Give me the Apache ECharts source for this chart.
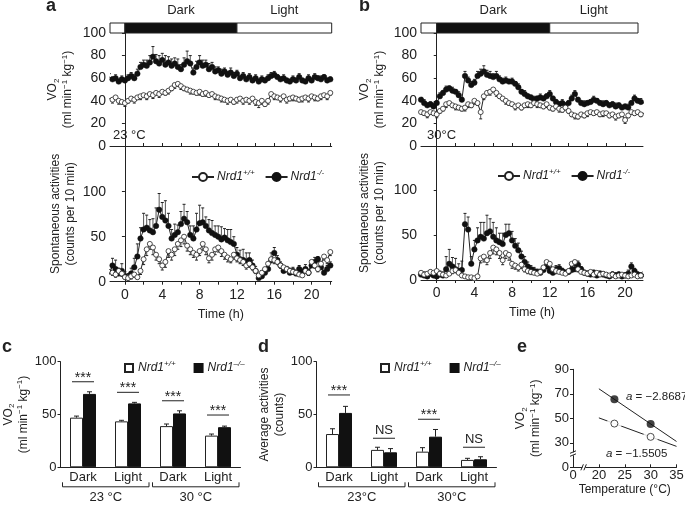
<!DOCTYPE html>
<html><head><meta charset="utf-8">
<script src="https://cdn.jsdelivr.net/npm/echarts@6/dist/echarts.min.js"></script>
<style>html,body{margin:0;padding:0;background:#fff}#c{width:685px;height:506px}</style>
</head><body><div id="c"></div><script>
const FONT = '"Liberation Sans", Arial, Helvetica, sans-serif';
const INK = '#222';
// sampling grid of the time courses: every 20 min, first sample at -1 h 40 min
const t0 = -5/3, dt = 1/3;

// ---- panel a (23 °C) ----
const a_vo2_ko = [61,59,60,57,59, 58,60,62, 60,64,70, 72,71,74, 79,75,73, 76,72,74, 71,73,70, 68,72,75, 73,65,70, 74,71,72, 68,70,66, 67,64,66, 63,65,62, 64,60,62, 59,61,58, 60,57,59, 58,60,62, 63,61,59, 60,58,57, 59,58,61, 58,57,60, 58,61,60, 59,61,58, 59];
const a_vo2_ko_err = [3,2,3,2,3, 2,3,3, 3,4,4, 4,5,6, 9,6,7, 6,8,5, 6,5,7, 4,6,9, 7,4,5, 6,5,4, 5,4,4, 3,4,3, 3,4,3, 3,2,3, 2,3,2, 3,2,3, 2,3,3, 3,2,2, 3,2,2, 3,2,3, 2,2,3, 2,3,2, 3,2,2, 2];
const a_vo2_wt = [42,41,43,40,39, 38,40,42, 41,43,44, 45,44,46, 45,47,46, 48,47,49, 51,54,55, 53,51,50, 49,48,47, 48,46,47, 45,46,44, 43,42,41, 40,41,39, 41,42,40, 41,40,42, 39,38,40, 37,40,46, 44,43,42, 44,41,42, 43,42,41, 42,43,42, 44,43,42, 44,45,44, 47];
const a_vo2_wt_err = [2,3,2,3,2, 3,2,2, 3,2,3, 2,3,2, 3,2,3, 2,2,3, 2,3,2, 3,2,2, 3,2,2, 3,2,3, 2,2,3, 2,3,2, 3,2,2, 3,2,3, 2,3,2, 3,4,3, 2,3,2, 3,2,3, 2,3,2, 3,2,2, 3,2,3, 2,3,2, 3,2,3, 2];
const a_act_ko = [8,18,14,9,12, 6,5,9, 16,28,48, 58,60,57, 55,62,80, 72,68,62, 48,52,55, 64,70,66, 52,48,58, 65,66,62, 57,54,52, 50,47,49, 46,44,42, 30,25,24, 22,24,18, 12,4,6, 10,14,24, 32,24,18, 12,14,10, 12,9,14, 11,14,10, 18,22,25, 16,10,14, 18];
const a_act_ko_err = [6,8,10,6,8, 5,4,6, 10,14,12, 18,14,12, 15,20,18, 16,22,14, 10,12,8, 14,16,12, 10,14,18, 20,16,10, 12,14,10, 12,14,10, 12,14,8, 8,10,12, 10,8,6, 5,4,6, 5,6,8, 6,5,4, 4,3,5, 4,3,4, 3,5,4, 4,5,3, 4,3,4, 4];
const a_act_wt = [14,10,8,12,9, 5,4,6, 8,5,12, 25,36,42, 38,30,25, 18,22,34, 30,36,42, 46,50,40, 36,32,30, 34,42,36, 26,30,36, 38,34,30, 27,25,30, 26,24,22, 18,20,16, 12,7,10, 14,20,25, 24,22,18, 16,14,12, 11,10,8, 7,12,10, 22,18,14, 20,28,24, 33];
const a_act_wt_err = [4,3,3,4,3, 2,2,3, 3,2,4, 6,7,6, 8,6,5, 5,6,7, 6,7,6, 7,8,6, 6,5,6, 5,7,6, 5,6,6, 5,6,5, 5,4,5, 4,4,4, 4,4,3, 3,2,3, 3,4,4, 4,3,3, 3,3,3, 3,3,2, 2,3,3, 4,3,3, 3,4,4, 4];

// ---- panel b (30 °C) ----
const b_vo2_ko = [41,38,36,37,35, 38,44,47, 50,51,49, 48,45,41, 62,58,54, 56,62,64, 66,63,62, 61,62,59, 57,58,57, 57,55,52, 48,46,44, 43,41,42, 43,42,44, 46,42,39, 37,38,36, 38,42,46, 41,38,37, 38,39,41, 40,38,37, 38,36,37, 35,36,34, 35,34,38, 42,40,39, 38];
const b_vo2_ko_err = [2,3,2,2,3, 2,3,2, 3,2,3, 2,3,2, 4,3,3, 3,4,4, 5,4,4, 3,4,3, 3,3,2, 3,2,3, 2,3,2, 2,3,2, 3,2,2, 3,2,2, 2,3,2, 2,3,3, 2,2,3, 2,2,3, 2,2,3, 2,2,2, 3,2,2, 2,3,2, 3,2,3, 2];
const b_vo2_wt = [30,29,28,30,29, 28,31,33, 37,38,36, 35,34,33, 34,37,36, 40,38,30, 44,47,48, 50,47,44, 42,40,38, 37,35,36, 34,36,37, 36,38,37, 36,35,37, 34,33,35, 33,32,34, 31,28,27, 26,28,27, 29,30,29, 30,28,29, 29,27,28, 26,27,28, 23,27,30, 29,30,28, 29];
const b_vo2_wt_err = [2,2,3,2,2, 3,2,2, 3,2,2, 3,2,2, 3,3,2, 3,2,6, 3,2,3, 2,3,2, 2,3,2, 2,3,2, 2,2,3, 2,2,3, 2,2,3, 2,2,2, 3,2,2, 2,2,3, 2,2,2, 3,2,2, 2,2,3, 2,2,2, 3,2,2, 3,2,2, 2,2,2, 2];
const b_act_ko = [6,5,4,7,5, 4,6,5, 12,18,15, 12,10,11, 62,56,18, 34,44,48, 46,52,54, 48,44,42, 40,50,52, 44,38,33, 26,20,15, 12,10,9, 8,11,15, 10,8,12, 13,10,8, 9,11,12, 17,12,8, 7,6,8, 5,7,6, 5,4,6, 5,6,4, 5,7,15, 10,6,5, 6];
const b_act_ko_err = [3,4,3,4,3, 3,4,4, 14,16,10, 12,8,10, 12,14,8, 10,14,16, 18,20,14, 16,14,10, 12,12,10, 10,8,8, 6,6,5, 4,4,3, 4,4,4, 3,4,4, 4,3,3, 3,4,4, 4,3,3, 3,3,3, 3,3,3, 3,3,3, 3,3,3, 3,4,4, 3,3,3, 3];
const b_act_wt = [8,6,7,9,8, 10,7,6, 5,7,10, 11,8,5, 4,3,3, 2,4,24, 26,22,30, 36,34,30, 22,30,28, 18,16,14, 17,12,10, 9,8,7, 9,14,20, 18,12,10, 9,8,7, 10,18,20, 12,9,8, 7,9,6, 8,6,7, 6,5,6, 4,5,6, 5,4,5, 6,4,5, 4];
const b_act_wt_err = [2,2,2,3,2, 3,2,2, 2,2,3, 3,2,2, 2,1,1, 1,2,5, 6,5,6, 7,6,6, 5,6,6, 5,4,4, 4,3,3, 3,2,2, 3,3,4, 4,3,3, 2,2,2, 3,4,4, 3,2,2, 2,2,2, 2,2,2, 2,2,2, 2,2,2, 2,2,2, 2,2,2, 2];

// light/dark cycle and time axis ticks
const darkPhase = [0, 12];
const phaseLabels = ['', 'Dark', 'Light'];
const hourLabels = [0, 4, 8, 12, 16, 20];
const hourTicks = [0, 2, 4, 6, 8, 10, 12, 14, 16, 18, 20, 22];
const vo2Ticks = [0, 20, 40, 60, 80, 100];
const actTicks = [0, 50, 100];
const barTicks = [0, 50, 100];

// ---- panel c: VO2 means ----
const barCats = ['Dark', 'Light', 'Dark', 'Light'];
const c_groups = ['23 °C', '30 °C'];
const c_wt = [47, 43.5, 39, 30];
const c_wt_err = [1.5, 1, 2, 1.5];
const c_ko = [69.5, 60.5, 51, 38];
const c_ko_err = [2, 1, 2.5, 1];
const c_sig = ['***', '***', '***', '***'];
const c_sigLevel = [81, 71, 63, 49.5];

// ---- panel d: average activities ----
const d_groups = ['23°C', '30°C'];
const d_wt = [31.5, 16.5, 14.8, 7];
const d_wt_err = [5, 2.5, 3.8, 1.5];
const d_ko = [51.5, 14.2, 29, 7.6];
const d_ko_err = [6.2, 3.5, 6.8, 2.4];
const d_sig = ['***', 'NS', '***', 'NS'];
const d_sigLevel = [68.5, 27.5, 45.5, 19];

// ---- panel e: VO2 vs temperature ----
const e_temp = [23, 30];
const e_wt = [45.7, 34.85];
const e_ko = [65.5, 45.4];
const e_slope_wt = -1.5505;
const e_slope_ko = -2.8687;
const e_fitRange = [20, 35];
const e_xTicks = [15, 20, 25, 30, 35];
const e_yTicks = [10, 30, 50, 70, 90];

// ---------------------------------------------------------------
const aRange = [-1.6, 22.15], bRange = [-1.67, 21.9], bBarRange = [-1.67, 21.37];
const ts = v => v.map((y, i) => [t0 + i * dt, y]);
const inRange = (arr, r) => arr.filter(v => v >= r[0] && v <= r[1]);

const nameRich = {
  n: {fontSize: 12, fontFamily: FONT, color: INK, lineHeight: 15},
  sup: {fontSize: 8, fontFamily: FONT, color: INK, lineHeight: 9, verticalAlign: 'top'},
  sub: {fontSize: 8, fontFamily: FONT, color: INK, lineHeight: 9, verticalAlign: 'bottom'}
};
const VO2_NAME = '{n|VO}{sub|2}\n{n|(ml min}{sup|−1}{n| kg}{sup|−1}{n|)}';

function valueY(gridIndex, min, max, ticks, name, nameGap, fmt, fs) {
  return {
    type: 'value', gridIndex, min, max,
    axisLine: {show: true, lineStyle: {color: INK, width: 1}},
    axisTick: {show: true, length: 3, customValues: ticks, lineStyle: {color: INK}},
    axisLabel: {customValues: ticks, fontSize: fs || 13, color: INK, fontFamily: FONT, margin: 4, formatter: fmt},
    splitLine: {show: false},
    name, nameLocation: 'middle', nameGap, nameRotate: 90,
    nameTextStyle: {rich: nameRich, fontSize: 12, fontFamily: FONT, color: INK, lineHeight: 15}
  };
}
function timeX(gridIndex, range, bottom) {
  return {
    type: 'value', gridIndex, min: range[0], max: range[1],
    axisLine: {show: true, onZero: false, lineStyle: {color: INK, width: 1}},
    axisTick: {show: true, inside: !bottom, length: 3, customValues: inRange(hourTicks, range), lineStyle: {color: INK}},
    axisLabel: {show: bottom, customValues: hourLabels, fontSize: 14, color: INK, fontFamily: FONT, margin: 6},
    splitLine: {show: false},
    name: bottom ? 'Time (h)' : '', nameLocation: 'middle', nameGap: 26,
    nameTextStyle: {fontSize: 12.5, fontFamily: FONT, color: INK}
  };
}
function catX(gridIndex) {
  return {
    type: 'category', gridIndex, data: barCats,
    axisLine: {show: true, lineStyle: {color: INK, width: 1}},
    axisTick: {show: false},
    axisLabel: {fontSize: 13, color: INK, fontFamily: FONT, margin: 4}
  };
}
function hiddenAxis(gridIndex, range) {
  return {type: 'value', gridIndex, min: range[0], max: range[1], show: false};
}

function phaseSeries(ai, range) {
  const data = [[range[0], darkPhase[0]], [darkPhase[0], darkPhase[1]], [darkPhase[1], range[1]]];
  return {
    type: 'custom', xAxisIndex: ai, yAxisIndex: ai, data, encode: {x: [0, 1]}, silent: true,
    renderItem(params, api) {
      const i = params.dataIndex;
      const p0 = api.coord([api.value(0), 1]), p1 = api.coord([api.value(1), 0]);
      return {type: 'group', children: [
        {type: 'rect', shape: {x: p0[0], y: p0[1], width: p1[0] - p0[0], height: p1[1] - p0[1]},
         style: {fill: i === 1 ? '#111' : '#fff', stroke: INK, lineWidth: 1}},
        {type: 'text', x: (p0[0] + p1[0]) / 2, y: p0[1] - 13,
         style: {text: phaseLabels[i], fill: INK, font: '13px ' + FONT, align: 'center', verticalAlign: 'middle'}}
      ]};
    }
  };
}
function errSeries(ai, vals, errs, dir, color) {
  return {
    type: 'custom', xAxisIndex: ai, yAxisIndex: ai, clip: true, silent: true, z: 2,
    data: vals.map((v, i) => [t0 + i * dt, v, v + dir * errs[i]]),
    encode: {x: 0, y: [1, 2]},
    renderItem(params, api) {
      const x = api.value(0);
      const p0 = api.coord([x, api.value(1)]), p1 = api.coord([x, api.value(2)]);
      return {type: 'group', children: [
        {type: 'line', shape: {x1: p0[0], y1: p0[1], x2: p1[0], y2: p1[1]}, style: {stroke: color, lineWidth: 1}},
        {type: 'line', shape: {x1: p1[0] - 1.5, y1: p1[1], x2: p1[0] + 1.5, y2: p1[1]}, style: {stroke: INK, lineWidth: 1}}
      ]};
    }
  };
}
function lineSeries(name, ai, vals, wt) {
  return {
    type: 'line', name, xAxisIndex: ai, yAxisIndex: ai, data: ts(vals), clip: true, silent: true, z: 3,
    symbol: 'circle', symbolSize: wt ? 5 : 5.5, showAllSymbol: true, animation: false,
    lineStyle: {color: INK, width: 1},
    itemStyle: wt ? {color: '#fff', borderColor: INK, borderWidth: 0.8} : {color: '#111', borderColor: '#111', borderWidth: 0.5},
    emphasis: {disabled: true}
  };
}
function panelTime(ai, ko, koErr, wt, wtErr) {
  return [
    errSeries(ai, ko, koErr, 1, '#555'),
    lineSeries('KO', ai, ko, false),
    errSeries(ai, wt, wtErr, -1, '#555'),
    lineSeries('WT', ai, wt, true)
  ];
}
function barSeries(name, ai, vals, wt) {
  return {
    type: 'bar', name, xAxisIndex: ai, yAxisIndex: ai, data: vals, barWidth: 13, barGap: '0%', silent: true,
    itemStyle: wt ? {color: '#fff', borderColor: INK, borderWidth: 1} : {color: '#111', borderColor: '#111', borderWidth: 1}
  };
}
function barErr(ai, vals, errs, off) {
  return {
    type: 'custom', xAxisIndex: ai, yAxisIndex: ai, silent: true, z: 3,
    data: vals.map((v, i) => [i, v, v + errs[i]]), encode: {x: 0, y: [1, 2]},
    renderItem(params, api) {
      const i = api.value(0);
      const p0 = api.coord([i, api.value(1)]), p1 = api.coord([i, api.value(2)]);
      const x = p0[0] + off;
      return {type: 'group', children: [
        {type: 'line', shape: {x1: x, y1: p0[1], x2: x, y2: p1[1]}, style: {stroke: INK, lineWidth: 1}},
        {type: 'line', shape: {x1: x - 2.5, y1: p1[1], x2: x + 2.5, y2: p1[1]}, style: {stroke: INK, lineWidth: 1}}
      ]};
    }
  };
}
function sigSeries(ai, levels, labels) {
  return {
    type: 'custom', xAxisIndex: ai, yAxisIndex: ai, silent: true, clip: false, z: 4,
    data: levels.map((v, i) => [i, v]), encode: {x: 0, y: 1},
    renderItem(params, api) {
      const i = params.dataIndex;
      const p = api.coord([api.value(0), api.value(1)]);
      const lab = labels[i];
      const stars = lab === '***';
      return {type: 'group', children: [
        {type: 'line', shape: {x1: p[0] - 11, y1: p[1], x2: p[0] + 11, y2: p[1]}, style: {stroke: INK, lineWidth: 1}},
        {type: 'text', x: p[0], y: stars ? p[1] + 3 : p[1] - 1,
         style: {text: lab, fill: INK, font: (stars ? '14px ' : '13px ') + FONT, align: 'center', verticalAlign: 'bottom'}}
      ]};
    }
  };
}
function bracketSeries(ai, groups) {
  return {
    type: 'custom', xAxisIndex: ai, yAxisIndex: ai, silent: true, clip: false,
    data: groups.map((g, k) => [2 * k, 2 * k + 1]), encode: {x: [0, 1]},
    renderItem(params, api) {
      const band = api.size([1, 0])[0];
      const a = api.coord([api.value(0), 0]), b = api.coord([api.value(1), 0]);
      const xl = a[0] - band / 2 + 2, xr = b[0] + band / 2 - 1.5, y = a[1] + 19.5;
      return {type: 'group', children: [
        {type: 'polyline', shape: {points: [[xl, y - 4.5], [xl, y], [xr, y], [xr, y - 4.5]]}, style: {stroke: INK, lineWidth: 1, fill: null}},
        {type: 'text', x: (xl + xr) / 2, y: y + 11, style: {text: groups[params.dataIndex], fill: INK, font: '13px ' + FONT, align: 'center', verticalAlign: 'middle'}}
      ]};
    }
  };
}
const eFit = (ys, slope) => e_fitRange.map(x => [x, ys[0] + slope * (x - e_temp[0])]);

const legRich = {
  it: {fontStyle: 'italic', fontSize: 12, fontFamily: FONT, color: INK, lineHeight: 16},
  sup: {fontStyle: 'italic', fontSize: 8, fontFamily: FONT, color: INK, lineHeight: 9, verticalAlign: 'top'}
};
const legLine = {selectedMode: false, itemWidth: 22, itemHeight: 10, itemGap: 10, data: ['WT', 'KO'],
  formatter: n => n === 'WT' ? '{it|Nrd1}{sup|+/+}' : '{it|Nrd1}{sup|-/-}',
  textStyle: {rich: legRich, fontSize: 12, fontFamily: FONT, color: INK, padding: [0, 0, 0, -2]}};
const legBar = {selectedMode: false, icon: 'rect', itemWidth: 8, itemHeight: 8, itemGap: 18, data: ['WTbar', 'KObar'],
  formatter: n => n === 'WTbar' ? '{it|Nrd1}{sup|+/+}' : '{it|Nrd1}{sup|–/–}',
  textStyle: {rich: legRich, fontSize: 12, fontFamily: FONT, color: INK}};

const txt = (x, y, text, extra) => ({type: 'text', x, y, silent: true,
  style: Object.assign({text, fill: INK, font: '13px ' + FONT, align: 'left', verticalAlign: 'middle'}, extra || {})});
const slopeRich = {i: {fontStyle: 'italic', fontSize: 11.5, fontFamily: FONT, color: INK}, n: {fontSize: 11.5, fontFamily: FONT, color: INK}};

const option = {
  animation: false,
  backgroundColor: '#fff',
  grid: [
    {left: 110, top: 23, width: 221.7, height: 10},
    {left: 110, top: 33, width: 221.7, height: 113},
    {left: 110, top: 146, width: 221.7, height: 135.7},
    {left: 421, top: 23, width: 217, height: 10},
    {left: 421, top: 33, width: 222, height: 113},
    {left: 421, top: 146, width: 222, height: 134},
    {left: 60.5, top: 361.7, width: 180, height: 105.6},
    {left: 316.5, top: 361.7, width: 180, height: 105.6},
    {left: 573, top: 369.3, width: 103.5, height: 98}
  ].map(g => Object.assign({outerBoundsMode: 'none', containLabel: false}, g)),
  xAxis: [
    hiddenAxis(0, aRange),
    timeX(1, aRange, false),
    timeX(2, aRange, true),
    hiddenAxis(3, bBarRange),
    timeX(4, bRange, false),
    timeX(5, bRange, true),
    catX(6),
    catX(7),
    {type: 'value', gridIndex: 8, min: 15, max: 35,
     axisLine: {show: true, onZero: false, lineStyle: {color: INK}},
     axisTick: {show: true, inside: true, length: 3, customValues: e_xTicks, lineStyle: {color: INK}},
     axisLabel: {customValues: e_xTicks, fontSize: 13, color: INK, fontFamily: FONT, margin: 2, formatter: v => v === 15 ? '0' : String(v)},
     splitLine: {show: false},
     name: 'Temperature (°C)', nameLocation: 'middle', nameGap: 16, nameTextStyle: {fontSize: 12, fontFamily: FONT, color: INK}}
  ],
  yAxis: [
    hiddenAxis(0, [0, 1]),
    valueY(1, 0, 100, vo2Ticks, VO2_NAME, 34.5, undefined, 14),
    valueY(2, 0, 150.8, actTicks, '{n|Spontaneous activities}\n{n|(counts per 10 min)}', 31.5, undefined, 14),
    hiddenAxis(3, [0, 1]),
    valueY(4, 0, 100, vo2Ticks, VO2_NAME, 33.5, undefined, 14),
    valueY(5, 0, 148.9, actTicks, '{n|Spontaneous activities}\n{n|(counts per 10 min)}', 33.5, undefined, 14),
    valueY(6, 0, 100, barTicks, VO2_NAME, 25),
    valueY(7, 0, 100, barTicks, '{n|Average activities}\n{n|(counts)}', 27),
    valueY(8, 10, 90, e_yTicks, VO2_NAME, 29.5, v => v === 10 ? '0' : String(v))
  ],
  legend: [
    Object.assign({left: 186, top: 164}, legLine),
    Object.assign({left: 492, top: 163}, legLine),
    Object.assign({left: 119, top: 355}, legBar),
    Object.assign({left: 375, top: 355}, legBar)
  ],
  series: [
    phaseSeries(0, aRange),
    ...panelTime(1, a_vo2_ko, a_vo2_ko_err, a_vo2_wt, a_vo2_wt_err),
    ...panelTime(2, a_act_ko, a_act_ko_err, a_act_wt, a_act_wt_err),
    phaseSeries(3, bBarRange),
    ...panelTime(4, b_vo2_ko, b_vo2_ko_err, b_vo2_wt, b_vo2_wt_err),
    ...panelTime(5, b_act_ko, b_act_ko_err, b_act_wt, b_act_wt_err),
    barSeries('WTbar', 6, c_wt, true), barSeries('KObar', 6, c_ko, false),
    barErr(6, c_wt, c_wt_err, -6.5), barErr(6, c_ko, c_ko_err, 6.5),
    sigSeries(6, c_sigLevel, c_sig), bracketSeries(6, c_groups),
    barSeries('WTbar', 7, d_wt, true), barSeries('KObar', 7, d_ko, false),
    barErr(7, d_wt, d_wt_err, -6.5), barErr(7, d_ko, d_ko_err, 6.5),
    sigSeries(7, d_sigLevel, d_sig), bracketSeries(7, d_groups),
    // panel e
    {type: 'line', xAxisIndex: 8, yAxisIndex: 8, data: eFit(e_wt, e_slope_wt), symbol: 'none', silent: true, z: 2,
     lineStyle: {color: INK, width: 1}},
    {type: 'scatter', xAxisIndex: 8, yAxisIndex: 8, data: e_temp.map((x, i) => [x, e_wt[i]]), symbol: 'circle', symbolSize: 15, silent: true, z: 3,
     itemStyle: {color: '#fff', borderWidth: 0}},
    {type: 'scatter', xAxisIndex: 8, yAxisIndex: 8, data: e_temp.map((x, i) => [x, e_wt[i]]), symbol: 'circle', symbolSize: 7, silent: true, z: 4,
     itemStyle: {color: '#fff', borderColor: INK, borderWidth: 1}},
    {type: 'line', xAxisIndex: 8, yAxisIndex: 8, data: eFit(e_ko, e_slope_ko), symbol: 'none', silent: true, z: 2,
     lineStyle: {color: INK, width: 1}},
    {type: 'scatter', xAxisIndex: 8, yAxisIndex: 8, data: e_temp.map((x, i) => [x, e_ko[i]]), symbol: 'circle', symbolSize: 8, silent: true, z: 4,
     itemStyle: {color: '#111'}},
    // axis break marks
    {type: 'custom', xAxisIndex: 8, yAxisIndex: 8, silent: true, clip: false, z: 5,
     data: [[15, 21, 0], [17.1, 10, 1]], encode: {x: 0, y: 1},
     renderItem(params, api) {
       const p = api.coord([api.value(0), api.value(1)]);
       const vert = params.dataIndex === 0;
       const c = [];
       if (vert) {
         c.push({type: 'rect', shape: {x: p[0] - 1.5, y: p[1] - 1.5, width: 3, height: 3}, style: {fill: '#fff'}});
         c.push({type: 'line', shape: {x1: p[0] - 3, y1: p[1] - 0.5, x2: p[0] + 3, y2: p[1] - 3}, style: {stroke: INK, lineWidth: 1}});
         c.push({type: 'line', shape: {x1: p[0] - 3, y1: p[1] + 2.5, x2: p[0] + 3, y2: p[1]}, style: {stroke: INK, lineWidth: 1}});
       } else {
         c.push({type: 'rect', shape: {x: p[0] - 1.5, y: p[1] - 1.5, width: 3, height: 3}, style: {fill: '#fff'}});
         c.push({type: 'line', shape: {x1: p[0] - 3, y1: p[1] + 3, x2: p[0] - 0.5, y2: p[1] - 3}, style: {stroke: INK, lineWidth: 1}});
         c.push({type: 'line', shape: {x1: p[0], y1: p[1] + 3, x2: p[0] + 2.5, y2: p[1] - 3}, style: {stroke: INK, lineWidth: 1}});
       }
       return {type: 'group', children: c};
     }}
  ],
  graphic: [
    txt(46, 6, 'a', {font: 'bold 18px ' + FONT}),
    txt(359, 6, 'b', {font: 'bold 18px ' + FONT}),
    txt(2, 347, 'c', {font: 'bold 18px ' + FONT}),
    txt(258, 347, 'd', {font: 'bold 18px ' + FONT}),
    txt(517, 347, 'e', {font: 'bold 18px ' + FONT}),
    txt(113, 135, '23 °C'),
    txt(427, 135, '30°C'),
    txt(626, 397, '{i|a}{n| = −2.8687}', {rich: slopeRich, font: '11.5px ' + FONT}),
    txt(606, 454, '{i|a}{n| = −1.5505}', {rich: slopeRich, font: '11.5px ' + FONT})
  ]
};
const chart = echarts.init(document.getElementById('c'), null, {width: 685, height: 506});
chart.setOption(option);
</script></body></html>
